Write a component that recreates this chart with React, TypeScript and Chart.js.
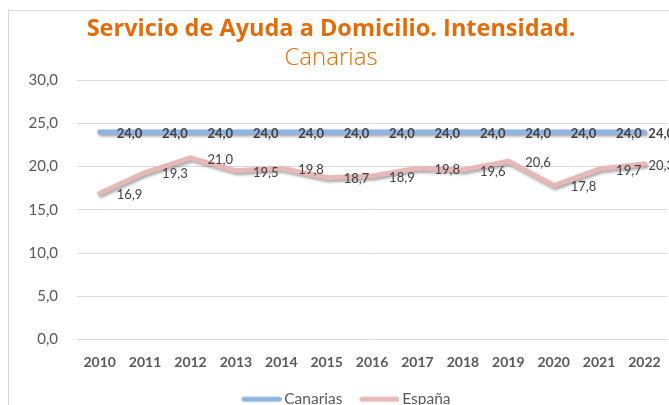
import React, { useEffect, useRef } from "react";
import { Chart, registerables } from "chart.js";

Chart.register(...registerables);

const years = ["2010", "2011", "2012", "2013", "2014", "2015", "2016", "2017", "2018", "2019", "2020", "2021", "2022"];
const canarias = [24.0, 24.0, 24.0, 24.0, 24.0, 24.0, 24.0, 24.0, 24.0, 24.0, 24.0, 24.0, 24.0];
const espana = [16.9, 19.3, 21.0, 19.5, 19.8, 18.7, 18.9, 19.8, 19.6, 20.6, 17.8, 19.7, 20.3];
const titleText = "Servicio de Ayuda a Domicilio. Intensidad.";
const subtitleText = "Canarias";

const CANVAS_W = 676;
const CANVAS_H = 417;

const fmt = (v: number) => v.toFixed(1).replace(".", ",");

function swatch(color: string) {
  const c = document.createElement("canvas");
  c.width = 50;
  c.height = 8;
  const ctx = c.getContext("2d")!;
  ctx.strokeStyle = color;
  ctx.lineWidth = 5;
  ctx.lineCap = "round";
  ctx.beginPath();
  ctx.moveTo(12.5, 4);
  ctx.lineTo(47.5, 4);
  ctx.stroke();
  return c;
}

const shadowPlugin = {
  id: "lineShadow",
  beforeDatasetDraw(chart: any) {
    const ctx = chart.ctx;
    ctx.save();
    ctx.shadowColor = "rgba(0,0,0,0.35)";
    ctx.shadowBlur = 3;
    ctx.shadowOffsetX = 1.5;
    ctx.shadowOffsetY = 2;
  },
  afterDatasetDraw(chart: any) {
    chart.ctx.restore();
  },
};

const legendShift = {
  id: "legendShift",
  afterLayout(chart: any) {
    if (chart.legend) {
      chart.legend.left += 9;
      chart.legend.right += 9;
    }
  },
};

const labelsPlugin = {
  id: "valueLabels",
  afterDatasetsDraw(chart: any) {
    const ctx = chart.ctx;
    chart.data.datasets.forEach((ds: any, i: number) => {
      const meta = chart.getDatasetMeta(i);
      ctx.save();
      ctx.font = (i === 0 ? "bold " : "") + "13px Lato";
      ctx.fillStyle = "#404040";
      ctx.textAlign = "left";
      ctx.textBaseline = "middle";
      meta.data.forEach((p: any, j: number) => {
        const t = fmt(ds.data[j]);
        const w = ctx.measureText(t).width;
        const x = Math.min(p.x + 17, chart.width - 2 - w);
        ctx.fillText(t, x, p.y + 1.5);
      });
      ctx.restore();
    });
  },
};

const titlePlugin = {
  id: "customTitle",
  afterDraw(chart: any) {
    const ctx = chart.ctx;
    ctx.save();
    ctx.fillStyle = "#E36C0A";
    ctx.textAlign = "center";
    ctx.textBaseline = "middle";
    ctx.font = "bold 23.5px 'Open Sans'";
    ctx.fillText(titleText, 331, 29);
    ctx.font = "300 24px 'Open Sans'";
    ctx.fillText(subtitleText, 331, 58);
    ctx.restore();
  },
};

export default function App() {
  const ref = useRef<HTMLCanvasElement>(null);
  useEffect(() => {
    if (!ref.current) return;
    const chart = new Chart(ref.current, {
      type: "line",
      data: {
        labels: years,
        datasets: [
          {
            label: "Canarias",
            data: canarias,
            borderColor: "#8EB4E3",
            backgroundColor: "#8EB4E3",
            borderWidth: 5,
            borderCapStyle: "round",
            borderJoinStyle: "round",
            pointRadius: 0,
            pointStyle: swatch("#8EB4E3"),
            tension: 0,
          },
          {
            label: "España",
            data: espana,
            borderColor: "#E6B9B8",
            backgroundColor: "#E6B9B8",
            borderWidth: 5,
            borderCapStyle: "round",
            borderJoinStyle: "round",
            pointRadius: 0,
            pointStyle: swatch("#E6B9B8"),
            tension: 0,
          },
        ],
      },
      options: {
        animation: false,
        responsive: false,
        devicePixelRatio: 1,
        layout: { padding: { top: 80, right: CANVAS_W - 669, left: 0, bottom: 0 } },
        plugins: {
          title: { display: false },
          tooltip: { enabled: false },
          legend: {
            position: "bottom",
            labels: {
              usePointStyle: true,
              pointStyleWidth: 40,
              boxHeight: 14,
              color: "#595959",
              font: { family: "Lato", size: 15.5 },
              padding: 12,
            },
          },
        },
        scales: {
          x: {
            type: "category",
            offset: true,
            grid: { display: false, drawTicks: false },
            border: { display: false },
            ticks: {
              color: "#595959",
              font: { family: "Lato", size: 14, weight: "bold" },
              padding: 15,
              maxRotation: 0,
              autoSkip: false,
            },
            afterFit: (axis: any) => {
              axis.height = 40;
            },
          },
          y: {
            min: 0,
            max: 30,
            grid: { color: "#D9D9D9", drawTicks: false, lineWidth: 1 },
            border: { display: false },
            ticks: {
              stepSize: 5,
              color: "#595959",
              font: { family: "Lato", size: 15 },
              padding: 19,
              callback: (v: any) => fmt(Number(v)),
            },
            afterFit: (axis: any) => {
              axis.width = 77;
            },
          },
        },
      },
      plugins: [legendShift, shadowPlugin, labelsPlugin, titlePlugin],
    });
    return () => chart.destroy();
  }, []);
  return (
    <div style={{ position: "fixed", left: 0, top: 0, width: 669, height: 405, overflow: "hidden", background: "#fff" }}>
      <div style={{ position: "absolute", left: 8, top: 10, width: 700, height: 420, border: "1px solid #D9D9D9" }} />
      <canvas
        ref={ref}
        width={CANVAS_W}
        height={CANVAS_H}
        style={{ position: "absolute", left: 0, top: 0, width: CANVAS_W, height: CANVAS_H }}
      />
    </div>
  );
}
